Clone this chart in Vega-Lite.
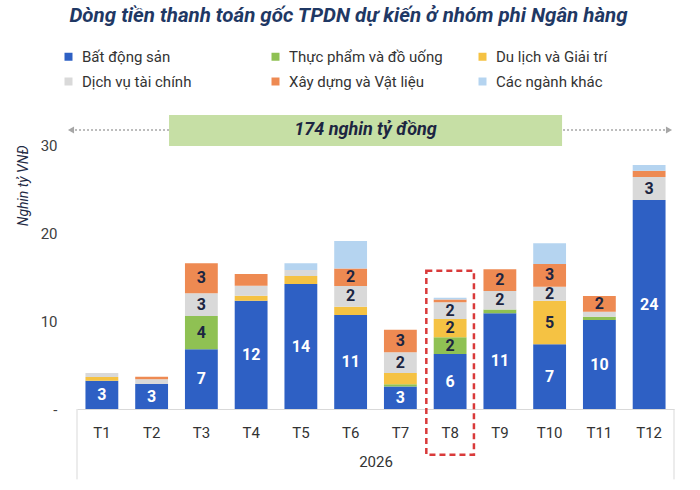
{
  "$schema": "https://vega.github.io/schema/vega-lite/v6.json",
  "autosize": {"type": "none"},
  "width": 597,
  "height": 264,
  "padding": {"left": 77, "top": 145, "right": 26, "bottom": 81},
  "background": "white",
  "config": {"view": {"stroke": null}, "font": "Roboto"},
  "title": {
    "text": "Dòng tiền thanh toán gốc TPDN dự kiến ở nhóm phi Ngân hàng",
    "anchor": "middle",
    "fontSize": 20.5,
    "fontStyle": "italic",
    "fontWeight": "bold",
    "color": "#1f3864",
    "font": "Roboto",
    "offset": 23,
    "dx": -27
  },
  "datasets": {
    "sectorOrder": [
      {"sector": "Bất động sản", "rank": 1},
      {"sector": "Thực phẩm và đồ uống", "rank": 2},
      {"sector": "Du lịch và Giải trí", "rank": 3},
      {"sector": "Dịch vụ tài chính", "rank": 4},
      {"sector": "Xây dựng và Vật liệu", "rank": 5},
      {"sector": "Các ngành khác", "rank": 6}
    ],
    "sectors": [
      {"month": "T1", "sector": "Bất động sản", "value": 3.2},
      {"month": "T1", "sector": "Du lịch và Giải trí", "value": 0.45},
      {"month": "T1", "sector": "Dịch vụ tài chính", "value": 0.45},
      {"month": "T2", "sector": "Bất động sản", "value": 2.84},
      {"month": "T2", "sector": "Dịch vụ tài chính", "value": 0.53},
      {"month": "T2", "sector": "Xây dựng và Vật liệu", "value": 0.3},
      {"month": "T3", "sector": "Bất động sản", "value": 6.78},
      {"month": "T3", "sector": "Thực phẩm và đồ uống", "value": 3.78},
      {"month": "T3", "sector": "Dịch vụ tài chính", "value": 2.58},
      {"month": "T3", "sector": "Xây dựng và Vật liệu", "value": 3.41},
      {"month": "T4", "sector": "Bất động sản", "value": 12.3},
      {"month": "T4", "sector": "Du lịch và Giải trí", "value": 0.57},
      {"month": "T4", "sector": "Dịch vụ tài chính", "value": 1.14},
      {"month": "T4", "sector": "Xây dựng và Vật liệu", "value": 1.33},
      {"month": "T5", "sector": "Bất động sản", "value": 14.2},
      {"month": "T5", "sector": "Du lịch và Giải trí", "value": 0.9},
      {"month": "T5", "sector": "Dịch vụ tài chính", "value": 0.7},
      {"month": "T5", "sector": "Các ngành khác", "value": 0.75},
      {"month": "T6", "sector": "Bất động sản", "value": 10.68},
      {"month": "T6", "sector": "Du lịch và Giải trí", "value": 0.95},
      {"month": "T6", "sector": "Dịch vụ tài chính", "value": 2.35},
      {"month": "T6", "sector": "Xây dựng và Vật liệu", "value": 2.0},
      {"month": "T6", "sector": "Các ngành khác", "value": 3.1},
      {"month": "T7", "sector": "Bất động sản", "value": 2.55},
      {"month": "T7", "sector": "Thực phẩm và đồ uống", "value": 0.25},
      {"month": "T7", "sector": "Du lịch và Giải trí", "value": 1.3},
      {"month": "T7", "sector": "Dịch vụ tài chính", "value": 2.35},
      {"month": "T7", "sector": "Xây dựng và Vật liệu", "value": 2.55},
      {"month": "T8", "sector": "Bất động sản", "value": 6.25},
      {"month": "T8", "sector": "Thực phẩm và đồ uống", "value": 1.9},
      {"month": "T8", "sector": "Du lịch và Giải trí", "value": 2.08},
      {"month": "T8", "sector": "Dịch vụ tài chính", "value": 1.9},
      {"month": "T8", "sector": "Xây dựng và Vật liệu", "value": 0.3},
      {"month": "T8", "sector": "Các ngành khác", "value": 0.2},
      {"month": "T9", "sector": "Bất động sản", "value": 10.87},
      {"month": "T9", "sector": "Thực phẩm và đồ uống", "value": 0.45},
      {"month": "T9", "sector": "Dịch vụ tài chính", "value": 2.08},
      {"month": "T9", "sector": "Xây dựng và Vật liệu", "value": 2.47},
      {"month": "T10", "sector": "Bất động sản", "value": 7.35},
      {"month": "T10", "sector": "Du lịch và Giải trí", "value": 4.95},
      {"month": "T10", "sector": "Dịch vụ tài chính", "value": 1.6},
      {"month": "T10", "sector": "Xây dựng và Vật liệu", "value": 2.58},
      {"month": "T10", "sector": "Các ngành khác", "value": 2.35},
      {"month": "T11", "sector": "Bất động sản", "value": 10.1},
      {"month": "T11", "sector": "Thực phẩm và đồ uống", "value": 0.38},
      {"month": "T11", "sector": "Dịch vụ tài chính", "value": 0.57},
      {"month": "T11", "sector": "Xây dựng và Vật liệu", "value": 1.78},
      {"month": "T12", "sector": "Bất động sản", "value": 23.75},
      {"month": "T12", "sector": "Dịch vụ tài chính", "value": 2.6},
      {"month": "T12", "sector": "Xây dựng và Vật liệu", "value": 0.72},
      {"month": "T12", "sector": "Các ngành khác", "value": 0.65}
    ],
    "highlight": [{"month": "T8", "top": 15.7, "bottom": -5.2}],
    "arrow": [{"x1": -0.12, "x2": 11.9, "y": 31.7}],
    "heads": [{"x": -0.12, "y": 31.7, "dir": "left"}, {"x": 11.9, "y": 31.7, "dir": "right"}],
    "banner": [{"x1": 1.85, "x2": 9.75, "y1": 29.9, "y2": 33.4, "xm": 5.8, "ym": 31.65, "label": "174 nghin tỷ đồng"}],
    "edges": [{"x": 0, "y1": 0, "y2": -8}, {"x": 12, "y1": 0, "y2": -8}]
  },
  "resolve": {"scale": {"x": "independent", "y": "independent"}},
  "layer": [
    {
      "data": {"name": "sectors"},
      "transform": [
        {"lookup": "sector", "from": {"data": {"name": "sectorOrder"}, "key": "sector", "fields": ["rank"]}}
      ],
      "layer": [
        {
          "mark": {"type": "bar"},
          "encoding": {
            "x": {
              "field": "month", "type": "nominal",
              "scale": {"domain": ["T1","T2","T3","T4","T5","T6","T7","T8","T9","T10","T11","T12"], "paddingInner": 0.34, "paddingOuter": 0.17},
              "axis": {"title": "2026", "titleFontWeight": "normal", "titleFontSize": 15, "titleColor": "#333333", "titlePadding": 14, "labelAngle": 0, "labelFontSize": 15, "labelColor": "#333333", "labelPadding": 16, "ticks": false, "domainColor": "#d9d9d9", "domainWidth": 1, "grid": false}
            },
            "y": {
              "field": "value", "type": "quantitative", "stack": "zero",
              "title": "Nghin tỷ VNĐ",
              "scale": {"domain": [0, 30], "nice": false},
              "axis": {"values": [0, 10, 20, 30], "labelExpr": "datum.value == 0 ? '-' : datum.label", "domain": false, "ticks": false, "grid": false, "labelPadding": 20, "labelFontSize": 15, "labelColor": "#404040", "titleFontStyle": "italic", "titleFontWeight": "normal", "titleFontSize": 14, "titleColor": "#1f2a44", "titleAnchor": "end", "titlePadding": 10}
            },
            "order": {"field": "rank", "type": "quantitative", "sort": "ascending"},
            "color": {
              "field": "sector", "type": "nominal",
              "scale": {"domain": ["Bất động sản", "Thực phẩm và đồ uống", "Du lịch và Giải trí", "Dịch vụ tài chính", "Xây dựng và Vật liệu", "Các ngành khác"], "range": ["#2e60c4", "#8fc153", "#f5c243", "#d9d9d9", "#ee8a52", "#b5d4f0"]},
              "legend": {"orient": "none", "legendX": -16, "legendY": -96, "direction": "horizontal", "columns": 3, "title": null, "symbolType": "square", "symbolSize": 64, "symbolStrokeWidth": 0, "labelFontSize": 15, "labelColor": "#333333", "labelLimit": 300, "labelOffset": 6, "rowPadding": 9, "columnPadding": 32, "gridAlign": "all", "padding": 0}
            }
          }
        },
        {
          "mark": {"type": "text", "fontSize": 16, "fontWeight": "bold", "baseline": "middle"},
          "encoding": {
            "x": {"field": "month", "type": "nominal"},
            "y": {"field": "value", "type": "quantitative", "stack": "zero", "bandPosition": 0.5, "title": "Nghin tỷ VNĐ"},
            "order": {"field": "rank", "type": "quantitative", "sort": "ascending"},
            "color": {"field": "sector", "type": "nominal"},
            "fill": {"condition": {"test": "datum.sector == 'Bất động sản'", "value": "#ffffff"}, "value": "#1c2541"},
            "text": {"condition": {"test": "datum.value >= 1.5 && datum.sector != 'Các ngành khác'", "field": "value", "type": "quantitative", "format": ".0f"}, "value": ""}
          }
        },
        {
          "data": {"name": "highlight"},
          "transform": [],
          "mark": {"type": "bar", "width": {"band": 1.45}, "fillOpacity": 0, "stroke": "#d93a3a", "strokeWidth": 2.5, "strokeDash": [6, 4]},
          "encoding": {
            "x": {"field": "month", "type": "nominal"},
            "y": {"field": "top", "type": "quantitative", "title": "Nghin tỷ VNĐ"},
            "y2": {"field": "bottom"}
          }
        }
      ]
    },
    {
      "layer": [
        {
          "data": {"name": "edges"},
          "mark": {"type": "rule", "color": "#d9d9d9", "strokeWidth": 1},
          "encoding": {
            "x": {"field": "x", "type": "quantitative", "scale": {"domain": [0, 12], "nice": false, "zero": false}, "axis": null},
            "y": {"field": "y1", "type": "quantitative", "scale": {"domain": [0, 30], "nice": false}, "axis": null},
            "y2": {"field": "y2"}
          }
        },
        {
          "data": {"name": "arrow"},
          "mark": {"type": "rule", "color": "#a6a6a6", "strokeWidth": 1.5, "strokeDash": [2, 2]},
          "encoding": {
            "x": {"field": "x1", "type": "quantitative"},
            "x2": {"field": "x2"},
            "y": {"field": "y", "type": "quantitative"}
          }
        },
        {
          "data": {"name": "heads"},
          "mark": {"type": "point", "filled": true, "color": "#a6a6a6", "size": 50, "opacity": 1},
          "encoding": {
            "x": {"field": "x", "type": "quantitative"},
            "y": {"field": "y", "type": "quantitative"},
            "shape": {"field": "dir", "type": "nominal", "scale": {"domain": ["left", "right"], "range": ["triangle-left", "triangle-right"]}, "legend": null}
          }
        },
        {
          "data": {"name": "banner"},
          "mark": {"type": "rect", "color": "#c6dfa5"},
          "encoding": {
            "x": {"field": "x1", "type": "quantitative"},
            "x2": {"field": "x2"},
            "y": {"field": "y1", "type": "quantitative"},
            "y2": {"field": "y2"}
          }
        },
        {
          "data": {"name": "banner"},
          "mark": {"type": "text", "fontSize": 18, "fontWeight": "bold", "fontStyle": "italic", "color": "#1c2541", "baseline": "middle"},
          "encoding": {
            "x": {"field": "xm", "type": "quantitative"},
            "y": {"field": "ym", "type": "quantitative"},
            "text": {"field": "label"}
          }
        }
      ]
    }
  ]
}
